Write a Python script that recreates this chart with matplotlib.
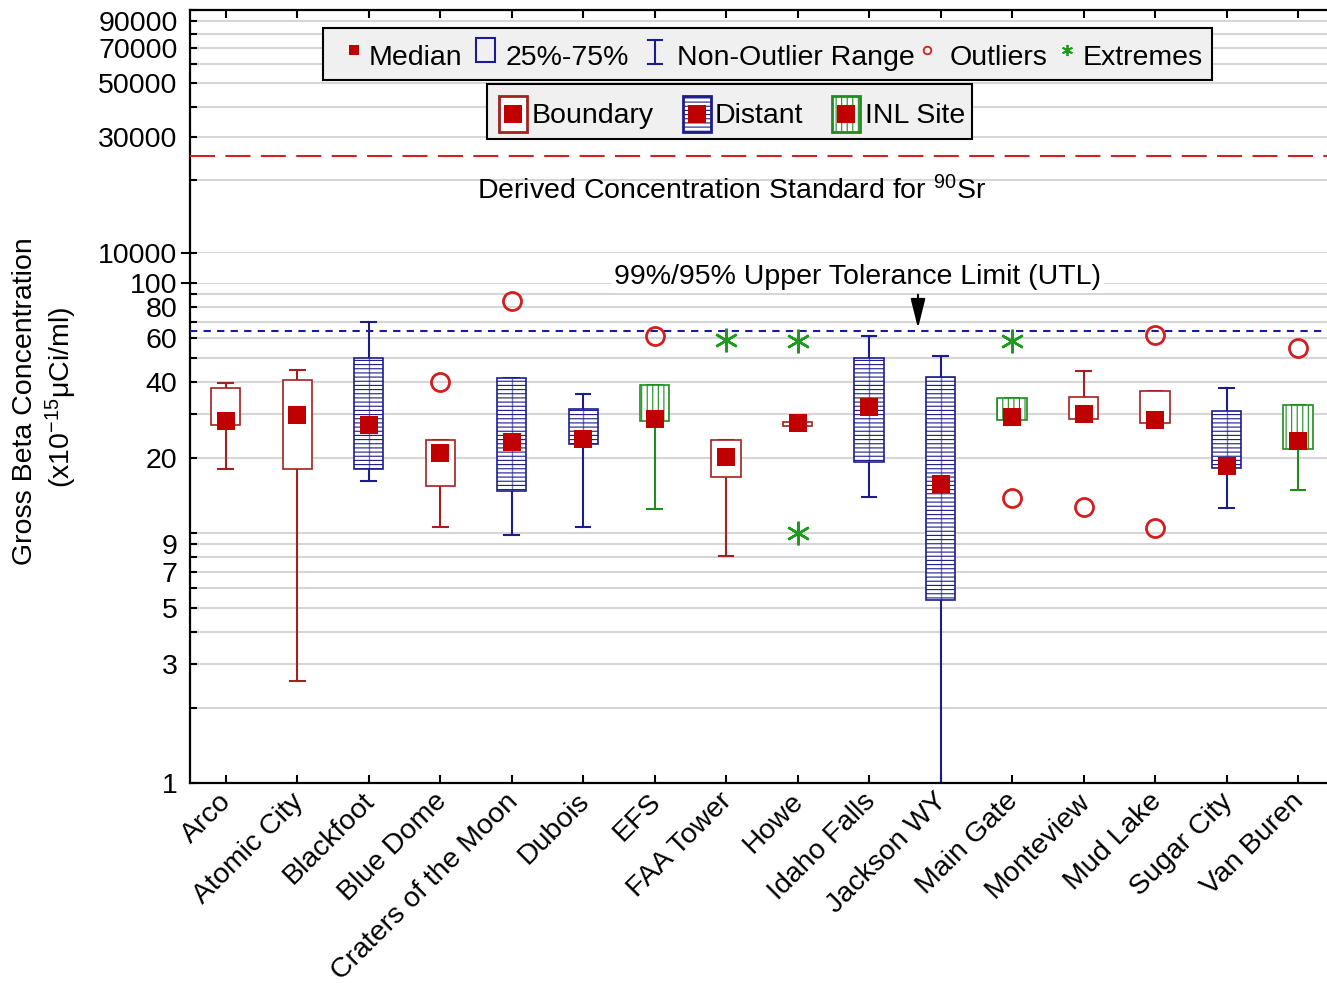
import matplotlib
matplotlib.use('Agg')
import matplotlib.pyplot as plt
from matplotlib.patches import Rectangle, FancyArrowPatch
from matplotlib.lines import Line2D
from matplotlib.transforms import Affine2D, ScaledTranslation
from matplotlib.ticker import FixedLocator, FixedFormatter, NullLocator

plt.rcParams['font.family'] = ['Liberation Sans', 'DejaVu Sans']
plt.rcParams['mathtext.fontset'] = 'custom'
plt.rcParams['mathtext.rm'] = 'Liberation Sans'
plt.rcParams['mathtext.it'] = 'Liberation Sans:italic'
plt.rcParams['mathtext.bf'] = 'Liberation Sans:bold'
plt.rcParams['hatch.linewidth'] = 0.8

# ---------------- data ----------------
sites = ['Arco', 'Atomic City', 'Blackfoot', 'Blue Dome', 'Craters of the Moon',
         'Dubois', 'EFS', 'FAA Tower', 'Howe', 'Idaho Falls', 'Jackson WY',
         'Main Gate', 'Monteview', 'Mud Lake', 'Sugar City', 'Van Buren']
groups = ['Boundary', 'Boundary', 'Distant', 'Boundary', 'Distant', 'Distant',
          'INL Site', 'Boundary', 'Boundary', 'Distant', 'Distant', 'INL Site',
          'Boundary', 'Boundary', 'Distant', 'INL Site']
median = [28.1, 29.7, 27.0, 20.9, 23.1, 23.8, 28.7, 20.1, 27.6, 32.0, 15.7,
          29.2, 29.9, 28.3, 18.6, 23.3]
q1 = [27.1, 18.1, 18.1, 15.4, 14.7, 22.6, 28.0, 16.8, 26.7, 19.2, 5.4,
      28.3, 28.5, 27.5, 18.2, 21.6]
q3 = [38.0, 40.9, 50.0, 23.6, 41.8, 31.2, 39.2, 23.6, 27.8, 50.1, 42.0,
      34.8, 35.1, 36.9, 30.8, 32.6]
whisk_lo = [18.0, 2.56, 16.1, 10.6, 9.8, 10.6, 12.5, 8.07, 26.7, 13.9, 0.5,
            28.3, 28.5, 27.5, 12.6, 14.9]
whisk_hi = [39.7, 44.9, 69.8, 23.6, 41.8, 36.0, 39.2, 23.6, 27.8, 61.4, 51.1,
            34.8, 44.3, 36.9, 38.0, 32.6]
outliers = [[], [], [], [40.1], [84.9], [], [61.4], [], [], [], [],
            [13.8], [12.7], [62.1, 10.5], [], [55.1]]
extremes = [[], [], [], [], [], [], [], [59.2], [58.6, 9.97], [], [],
            [58.6], [], [], [], []]
dcs_value = 25000
utl_value = 64.5

lower_ticks = [1, 2, 3, 4, 5, 6, 7, 8, 9, 10, 20, 30, 40, 50, 60, 70, 80, 90, 100]
lower_labels = ['1', '', '3', '', '5', '', '7', '', '9', '', '20', '', '40', '',
                '60', '', '80', '', '100']
upper_ticks = [10000, 20000, 30000, 40000, 50000, 60000, 70000, 80000, 90000, 100000]
upper_labels = ['10000', '', '30000', '', '50000', '', '70000', '', '90000', '']

# ---------------- style ----------------
edge_col = {'Boundary': '#A52020', 'Distant': '#1C1C8C', 'INL Site': '#1E8C1E'}
hatch_of = {'Boundary': None, 'Distant': '----', 'INL Site': '|||'}
MED = '#C00000'
OUT = '#D41E1E'
EXT = '#1E9A1E'
GRID = '#D6D6D6'
FS = 20.5

W, H = 1327, 983
fig = plt.figure(figsize=(W / 100, H / 100), dpi=100)
pix = Affine2D().scale(1 / W, -1 / H).translate(0, 1) + fig.transFigure

x0 = 190
axw = 1143.75
ax_l = fig.add_axes([x0 / W, (H - 783) / H, axw / W, 500 / H])
ax_u = fig.add_axes([x0 / W, (H - 253) / H, axw / W, 243 / H])

pos = list(range(len(sites)))

# ---------------- boxes ----------------
stats = [dict(med=median[i], q1=q1[i], q3=q3[i], whislo=whisk_lo[i],
              whishi=whisk_hi[i], fliers=[]) for i in pos]
art = ax_l.bxp(stats, positions=pos, widths=0.41, patch_artist=True,
               showfliers=False, manage_ticks=False,
               medianprops=dict(linewidth=0),
               boxprops=dict(linewidth=1.2), whiskerprops=dict(linewidth=1.5),
               capprops=dict(linewidth=1.5))
for i, g in enumerate(groups):
    c = edge_col[g]
    b = art['boxes'][i]
    b.set_facecolor('white')
    b.set_edgecolor(c)
    b.set_zorder(3)
    if hatch_of[g]:
        b.set_hatch(hatch_of[g])
    for w in art['whiskers'][2 * i:2 * i + 2]:
        w.set_color(c)
        w.set_zorder(2)
    for cp in art['caps'][2 * i:2 * i + 2]:
        cp.set_color(c)
        cp.set_zorder(2)
    if g == 'Distant':
        ax_l.plot([i, i], [q1[i], q3[i]], color=c, lw=1.0, alpha=0.6, zorder=3.5)

ax_l.plot(pos, median, 's', ms=13, color=MED, mew=0, zorder=5)
for i in pos:
    if outliers[i]:
        ax_l.plot([i] * len(outliers[i]), outliers[i], 'o', ms=13, mfc='none',
                  mec=OUT, mew=2, zorder=5)
    if extremes[i]:
        ax_l.plot([i] * len(extremes[i]), extremes[i], marker=(6, 2, 0),
                  ls='none', ms=17, color=EXT, mew=1.8, zorder=5)

# reference lines
ax_l.axhline(utl_value, color='#1C1C9A', lw=1.5, ls=(0, (3.5, 3)), zorder=4)
ax_u.axhline(dcs_value, color='#D42020', lw=1.5, ls=(0, (12, 5)), zorder=4)

# ---------------- axes ----------------
for ax in (ax_l, ax_u):
    ax.set_xlim(-0.5, 15.5)
    ax.set_yscale('log')
    ax.set_xticks(pos)
    for s in ax.spines.values():
        s.set_linewidth(1.6)
    ax.spines['right'].set_visible(False)

ax_l.set_ylim(1, 100)
ax_u.set_ylim(10000, 100000)

ax_l.yaxis.set_major_locator(FixedLocator(lower_ticks))
ax_l.yaxis.set_major_formatter(FixedFormatter(lower_labels))
ax_l.yaxis.set_minor_locator(NullLocator())
ax_u.yaxis.set_major_locator(FixedLocator(upper_ticks))
ax_u.yaxis.set_major_formatter(FixedFormatter(upper_labels))
ax_u.yaxis.set_minor_locator(NullLocator())

for ax in (ax_l, ax_u):
    ax.tick_params(axis='y', direction='in', length=5, width=1.5, pad=9, labelsize=FS)
    ax.grid(axis='y', color=GRID, lw=1.5, zorder=0)
    ax.set_axisbelow(True)

ax_l.spines['top'].set_visible(False)
ax_u.spines['bottom'].set_visible(False)
ax_l.tick_params(axis='x', direction='in', length=6, width=1.5, top=False, pad=6)
ax_l.set_xticklabels(sites, rotation=45, ha='right', va='top',
                     rotation_mode='anchor', fontsize=FS)
shift = ScaledTranslation(-7 / 100, 3 / 100, fig.dpi_scale_trans)
for lab in ax_l.get_xticklabels():
    lab.set_transform(lab.get_transform() + shift)
ax_u.tick_params(axis='x', direction='in', length=6, width=1.5, bottom=False,
                 top=True, labelbottom=False)

# axis break connection
fig.add_artist(Line2D([x0, x0], [253, 283], color='black', lw=1.6, transform=pix))
for yy in (253, 283):
    fig.add_artist(Line2D([182, x0], [yy, yy], color='black', lw=1.5, transform=pix))

# annotations
fig.text(732 / W, 1 - 191 / H, r'Derived Concentration Standard for $^{90}$Sr',
         ha='center', va='center', fontsize=FS, zorder=10)
fig.text(858 / W, 1 - 277 / H, '99%/95% Upper Tolerance Limit (UTL)',
         ha='center', va='center', fontsize=FS, zorder=10,
         bbox=dict(fc='white', ec='none', pad=2))
fig.add_artist(FancyArrowPatch((918, 292), (918, 331), transform=pix,
                               arrowstyle='-|>,head_length=1.0,head_width=0.25',
                               mutation_scale=18, color='black', lw=1.5, zorder=10))

# y label
fig.text(25 / W, 1 - 401 / H, 'Gross Beta Concentration', rotation=90,
         ha='center', va='center', fontsize=FS)
fig.text(61 / W, 1 - 397 / H, r'(x10$^{-15}$μCi/ml)', rotation=90,
         ha='center', va='center', fontsize=FS)

# ---------------- legend 1 ----------------
LBG = '#F0F0F0'
fig.add_artist(Rectangle((323, 28), 889, 52, fc=LBG, ec='black', lw=1.5,
                         transform=pix, zorder=8))
ty = 58
fig.add_artist(Rectangle((349, 45), 10, 10, fc=MED, ec='none', transform=pix, zorder=9))
fig.text(369 / W, 1 - ty / H, 'Median', ha='left', va='center', fontsize=FS, zorder=9)
fig.add_artist(Rectangle((476, 38), 19, 24, fc='none', ec='#1C1C8C', lw=1.5,
                         transform=pix, zorder=9))
fig.text(506 / W, 1 - ty / H, '25%-75%', ha='left', va='center', fontsize=FS, zorder=9)
for seg in (([655, 655], [40, 64]), ([648, 662], [40, 40]), ([648, 662], [64, 64])):
    fig.add_artist(Line2D(seg[0], seg[1], color='#1C1C8C', lw=1.5, transform=pix, zorder=9))
fig.text(677 / W, 1 - ty / H, 'Non-Outlier Range', ha='left', va='center',
         fontsize=FS, zorder=9)
fig.add_artist(Line2D([927], [50], marker='o', ms=5.5, mfc='none', mec=OUT, mew=1.3,
                      transform=pix, zorder=9))
fig.text(950 / W, 1 - ty / H, 'Outliers', ha='left', va='center', fontsize=FS, zorder=9)
fig.add_artist(Line2D([1067], [50], marker=(6, 2, 0), ms=8, color=EXT, mew=1.3,
                      transform=pix, zorder=9))
fig.text(1083 / W, 1 - ty / H, 'Extremes', ha='left', va='center', fontsize=FS, zorder=9)

# ---------------- legend 2 ----------------
fig.add_artist(Rectangle((487, 84), 485, 55, fc=LBG, ec='black', lw=1.5,
                         transform=pix, zorder=8))
ty2 = 116
for gx, tx, g in ((499, 532, 'Boundary'), (683, 715, 'Distant'), (832, 865, 'INL Site')):
    r = Rectangle((gx, 96), 28, 36, fc='white', ec=edge_col[g], lw=2,
                  transform=pix, zorder=9)
    if hatch_of[g]:
        r.set_hatch(hatch_of[g])
    fig.add_artist(r)
    fig.add_artist(Rectangle((gx + 5, 105), 18, 18, fc=MED, ec='none',
                             transform=pix, zorder=9.5))
    fig.text(tx / W, 1 - ty2 / H, g, ha='left', va='center', fontsize=FS, zorder=9)

fig.savefig('out.png', dpi=100)
